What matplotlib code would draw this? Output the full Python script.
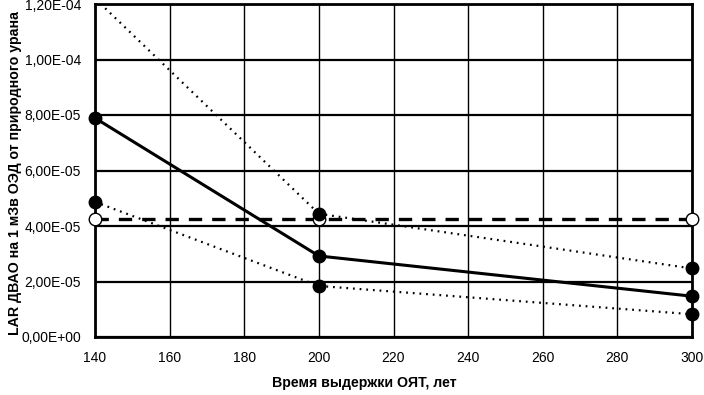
import matplotlib
matplotlib.use("Agg")
import matplotlib.pyplot as plt
from matplotlib.ticker import FuncFormatter

plt.rcParams['font.family'] = ['Liberation Sans', 'DejaVu Sans']

years = [140, 200, 300]
solid = [7.89e-5, 2.92e-5, 1.47e-5]
dotted_upper = [1.22e-4, 4.44e-5, 2.47e-5]
dotted_lower = [4.87e-5, 1.84e-5, 0.82e-5]
dashed_const = [4.26e-5, 4.26e-5, 4.26e-5]

x_ticks = [140, 160, 180, 200, 220, 240, 260, 280, 300]
y_ticks = [0, 2e-5, 4e-5, 6e-5, 8e-5, 1.0e-4, 1.2e-4]

fig = plt.figure(figsize=(7.04, 3.95), dpi=100)
ax = fig.add_axes([95/704, 1-337/395, (692-95)/704, (337-4)/395])

ax.plot(years, dashed_const, color='black', lw=2.4, ls=(0, (4, 3)),
        marker='o', ms=9, mfc='white', mec='black', mew=1, zorder=3, clip_on=False)
ax.plot(years[1:], dotted_upper[1:], color='black', lw=1.6, ls=(0, (0.8, 2.2)),
        marker='o', ms=9, mfc='black', mec='black', zorder=4, clip_on=False)
ax.plot(years[:2], dotted_upper[:2], color='black', lw=1.6, ls=(0, (0.8, 2.2)),
        zorder=4, clip_on=True)
ax.plot(years, dotted_lower, color='black', lw=1.6, ls=(0, (0.8, 2.2)),
        marker='o', ms=9, mfc='black', mec='black', zorder=4, clip_on=False)
ax.plot(years, solid, color='black', lw=2.2, ls='-',
        marker='o', ms=9, mfc='black', mec='black', zorder=5, clip_on=False)

ax.set_xlim(140, 300)
ax.set_ylim(0, 1.2e-4)
ax.set_xticks(x_ticks)
ax.set_yticks(y_ticks)

def fmt(v, pos):
    s = "%.2E" % v
    return s.replace('.', ',')
ax.yaxis.set_major_formatter(FuncFormatter(fmt))

ax.grid(True, axis='y', color='black', lw=1.6)
ax.grid(True, axis='x', color='black', lw=1.0)
ax.set_axisbelow(True)
for sp in ax.spines.values():
    sp.set_linewidth(2)
    sp.set_color('black')
ax.tick_params(length=0, labelsize=10, pad=10)

fig.text(364/704, 1-383/395, "Время выдержки ОЯТ, лет", fontsize=10.2,
         fontweight='bold', ha='center', va='center')
fig.text(15/704, 1-173/395, "LAR ДВАО на 1 мЗв ОЭД от природного урана", fontsize=10.2,
         fontweight='bold', ha='center', va='center', rotation=90)

fig.savefig("out.png", dpi=100)
